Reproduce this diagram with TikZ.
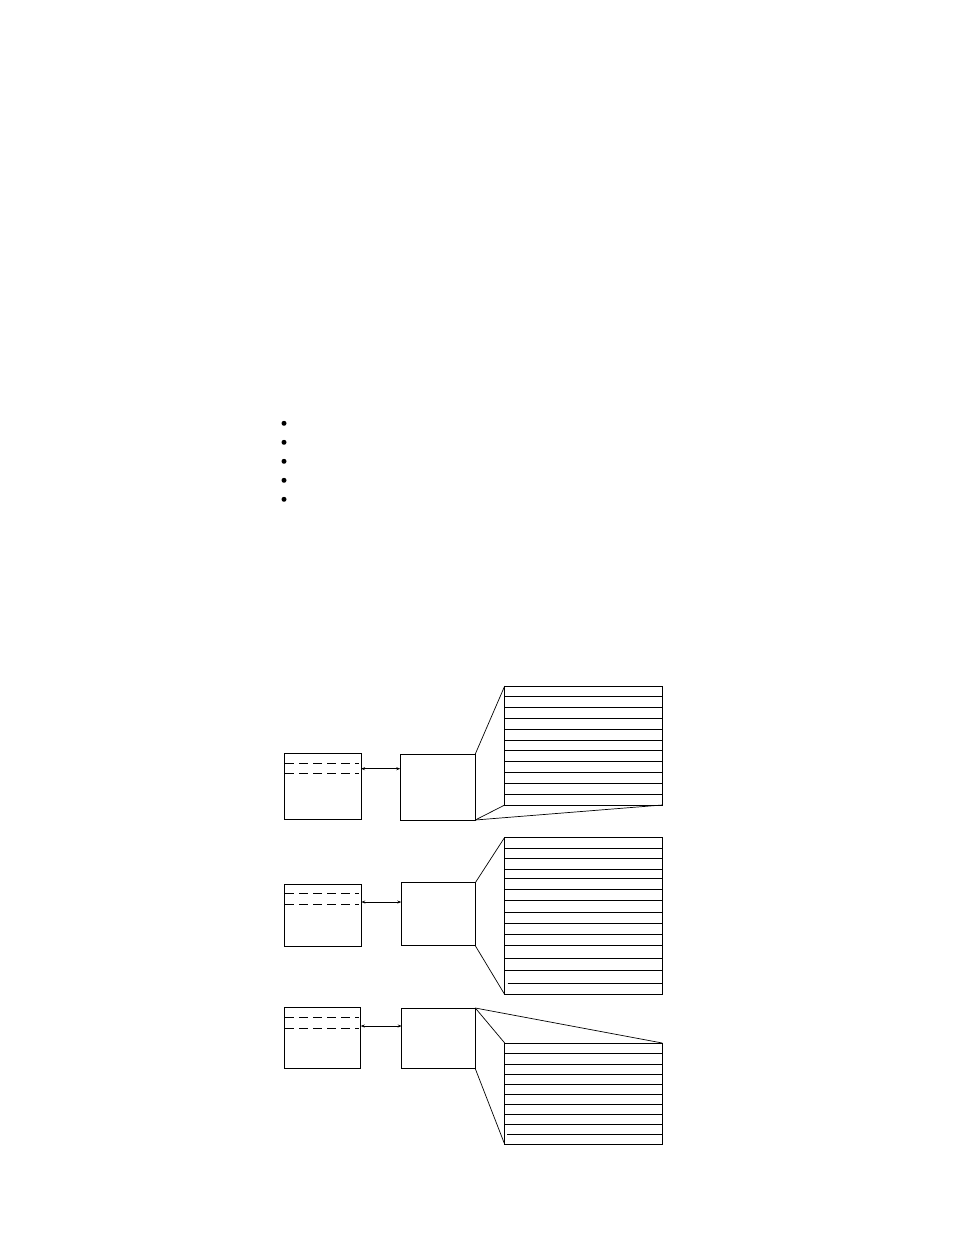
\documentclass[tikz,border=0pt]{standalone}
\usepackage{tikz}
\usetikzlibrary{arrows.meta, positioning}

\begin{document}
\begin{tikzpicture}[x=1pt, y=-1pt,
        recbox/.style={rectangle, draw=black, line width=1pt, inner sep=0pt, outer sep=0pt, anchor=north west},
        dot/.style={circle, fill=black, inner sep=0pt, minimum size=5pt},
        cut/.style={line width=1pt, dash pattern=on 9pt off 5pt},
        row/.style={line width=1pt},
        fan/.style={line width=0.7pt},
        link/.style={{Stealth[length=4pt, width=3pt]}-{Stealth[length=4pt, width=3pt]}, line width=0.9pt}
    ]
        \useasboundingbox (0,0) rectangle (954,1235);

        \foreach \y [count=\i] in {423.3, 442.3, 461.3, 480.3, 499.3}
            \node[dot] (dot\i) at (284,\y) {};

        % first group
        \node[recbox, minimum width=77pt, minimum height=66pt] (rec1) at (284,753) {};
        \node[recbox, minimum width=75pt, minimum height=66pt] (mid1) at (400.3,754) {};
        \node[recbox, minimum width=157.6pt, minimum height=119pt] (list1) at (504.7,686) {};
        \draw[cut] ([shift={(1,10.3)}]rec1.north west) -- ([shift={(-2,10.3)}]rec1.north east);
        \draw[cut] ([shift={(1,20.7)}]rec1.north west) -- ([shift={(-2,20.7)}]rec1.north east);
        \draw[link] ([yshift=-15.7pt]rec1.north east) -- ([yshift=-14.7pt]mid1.north west);
        \foreach \k in {1,...,10}
            \draw[row] ([yshift=-\k*10.82pt]list1.north west) -- ([yshift=-\k*10.82pt]list1.north east);
        \draw[fan] (mid1.north east) -- (list1.north west);
        \draw[fan] (mid1.south east) -- (list1.south west);
        \draw[fan] (mid1.south east) -- (list1.south east);

        % second group
        \node[recbox, minimum width=77.3pt, minimum height=62.3pt] (rec2) at (284,884) {};
        \node[recbox, minimum width=74pt, minimum height=63pt] (mid2) at (401.3,882.7) {};
        \node[recbox, minimum width=157.6pt, minimum height=157.2pt] (list2) at (504.7,837.3) {};
        \draw[cut] ([shift={(1,9)}]rec2.north west) -- ([shift={(-2,9)}]rec2.north east);
        \draw[cut] ([shift={(1,20.3)}]rec2.north west) -- ([shift={(-2,20.3)}]rec2.north east);
        \draw[link] ([yshift=-18pt]rec2.north east) -- ([yshift=-19.3pt]mid2.north west);
        \foreach \d in {11, 21.4, 32, 41, 52, 63, 74.7, 85.7, 96.7, 108, 120.7, 133}
            \draw[row] ([yshift=-\d pt]list2.north west) -- ([yshift=-\d pt]list2.north east);
        \draw[row] ([shift={(3,146)}]list2.north west) -- ([yshift=-146pt]list2.north east);
        \draw[fan] (mid2.north east) -- (list2.north west);
        \draw[fan] (mid2.south east) -- (list2.south west);

        % third group
        \node[recbox, minimum width=76.7pt, minimum height=61.4pt] (rec3) at (284,1007.3) {};
        \node[recbox, minimum width=73.6pt, minimum height=60.7pt] (mid3) at (401.7,1008) {};
        \node[recbox, minimum width=157.6pt, minimum height=101.3pt] (list3) at (504.7,1043) {};
        \draw[cut] ([shift={(1,9.7)}]rec3.north west) -- ([shift={(-2,9.7)}]rec3.north east);
        \draw[cut] ([shift={(1,21)}]rec3.north west) -- ([shift={(-2,21)}]rec3.north east);
        \draw[link] ([yshift=-18.7pt]rec3.north east) -- ([yshift=-18pt]mid3.north west);
        \foreach \d in {10.3, 21.3, 31.7, 41.7, 51.7, 61.3, 71.3, 81.3}
            \draw[row] ([yshift=-\d pt]list3.north west) -- ([yshift=-\d pt]list3.north east);
        \draw[row] ([shift={(2.5,91.3)}]list3.north west) -- ([yshift=-91.3pt]list3.north east);
        \draw[fan] (mid3.north east) -- (list3.north west);
        \draw[fan] (mid3.north east) -- (list3.north east);
        \draw[fan] (mid3.south east) -- (list3.south west);
    \end{tikzpicture}
\end{document}
